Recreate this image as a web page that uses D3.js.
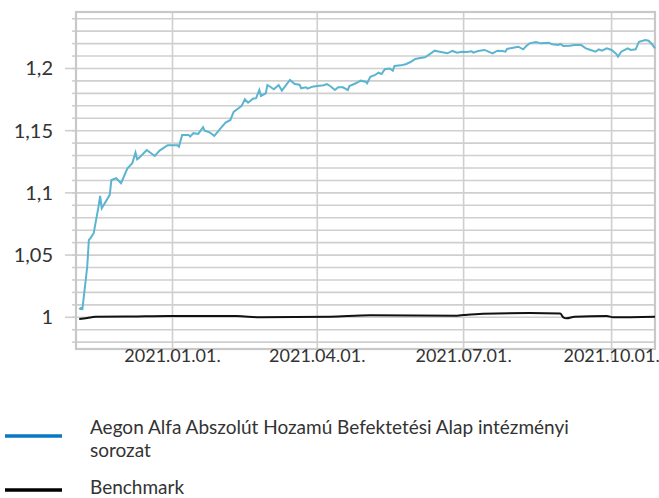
<!DOCTYPE html>
<html>
<head>
<meta charset="utf-8">
<script src="https://cdn.jsdelivr.net/npm/d3@7"></script>
<style>
  body { margin: 0; background: #fff; }
  svg { display: block; font-family: Lato, "Noto Sans", sans-serif; }
  .grid line { stroke: #cfcfcf; stroke-width: 1.6; }
  .tick-label { fill: #333; }
</style>
</head>
<body>
<svg id="chart" width="659" height="498"></svg>
<script>
// fund series (dates + values)
const fundDates = [
  "2020-11-04","2020-11-05","2020-11-06","2020-11-09","2020-11-10","2020-11-11","2020-11-13",
  "2020-11-16","2020-11-17","2020-11-18","2020-11-23","2020-11-24","2020-11-27","2020-11-30",
  "2020-12-04","2020-12-07","2020-12-09","2020-12-10","2020-12-11","2020-12-16","2020-12-21",
  "2020-12-24","2020-12-29","2021-01-04","2021-01-05","2021-01-07","2021-01-11","2021-01-12",
  "2021-01-14","2021-01-17","2021-01-20","2021-01-21","2021-01-24","2021-01-27","2021-01-31",
  "2021-02-03","2021-02-06","2021-02-08","2021-02-11","2021-02-13","2021-02-15","2021-02-17",
  "2021-02-20","2021-02-22","2021-02-24","2021-02-25","2021-02-28","2021-03-01","2021-03-02",
  "2021-03-05","2021-03-08","2021-03-10","2021-03-15","2021-03-18","2021-03-21","2021-03-22",
  "2021-03-25","2021-03-26","2021-03-29","2021-04-01","2021-04-05","2021-04-07","2021-04-09",
  "2021-04-12","2021-04-14","2021-04-17","2021-04-20","2021-04-21","2021-04-25","2021-04-28",
  "2021-05-01","2021-05-02","2021-05-04","2021-05-07","2021-05-09","2021-05-11","2021-05-13",
  "2021-05-16","2021-05-18","2021-05-19","2021-05-23","2021-05-26","2021-05-29","2021-06-01",
  "2021-06-04","2021-06-07","2021-06-10","2021-06-13","2021-06-16","2021-06-21","2021-06-24",
  "2021-06-27","2021-06-30","2021-07-03","2021-07-06","2021-07-07","2021-07-10","2021-07-14",
  "2021-07-19","2021-07-22","2021-07-25","2021-07-27","2021-07-28","2021-07-31","2021-08-04",
  "2021-08-07","2021-08-09","2021-08-11","2021-08-15","2021-08-18","2021-08-23","2021-08-25",
  "2021-08-29","2021-08-30","2021-09-01","2021-09-05","2021-09-08","2021-09-12","2021-09-15",
  "2021-09-18","2021-09-21","2021-09-23","2021-09-25","2021-09-28","2021-10-01","2021-10-04",
  "2021-10-05","2021-10-07","2021-10-11","2021-10-13","2021-10-16","2021-10-18","2021-10-22",
  "2021-10-24","2021-10-26","2021-10-28"
];
const fundValues = [
  1.0065,1.0075,1.0068,1.041,1.0622,1.0636,1.0676,
  1.089,1.0976,1.0877,1.0984,1.1104,1.1118,1.1078,
  1.1198,1.1239,1.1324,1.127,1.1279,1.1345,1.1297,
  1.134,1.1383,1.1383,1.1372,1.1466,1.1466,1.1452,
  1.148,1.1474,1.1528,1.15,1.1487,1.1458,1.152,
  1.1565,1.1586,1.1651,1.168,1.1699,1.1753,1.1725,
  1.1757,1.1761,1.1827,1.1779,1.18,1.1867,1.1859,
  1.1833,1.1867,1.1822,1.1908,1.1875,1.187,1.1841,
  1.1849,1.1838,1.1854,1.1859,1.1865,1.1875,1.1859,
  1.1827,1.1849,1.1849,1.1827,1.1859,1.1881,1.1902,
  1.1894,1.1881,1.1934,1.1948,1.1966,1.1956,1.1994,
  1.2,1.1983,1.202,1.2025,1.2034,1.2052,1.2076,
  1.2084,1.209,1.2116,1.2143,1.2135,1.2122,1.2141,
  1.2127,1.2135,1.2133,1.2138,1.2127,1.2141,1.2149,
  1.2122,1.2143,1.2141,1.2135,1.2157,1.2165,1.2175,
  1.2154,1.2181,1.2202,1.2213,1.2202,1.2207,1.2194,
  1.2189,1.2197,1.2181,1.2183,1.2189,1.2189,1.2162,
  1.2149,1.2135,1.2154,1.2143,1.2162,1.2149,1.2116,
  1.2095,1.2135,1.2162,1.2149,1.2154,1.2215,1.2229,
  1.2223,1.2197,1.2162
];

// benchmark series
const benchDates = [
  "2020-11-04","2020-11-09","2020-11-14","2020-12-06","2020-12-29","2021-02-10","2021-02-24",
  "2021-04-09","2021-05-04","2021-06-27","2021-07-01","2021-07-13","2021-08-11","2021-08-30",
  "2021-09-01","2021-09-03","2021-09-08","2021-09-28","2021-10-02","2021-10-28"
];
const benchValues = [
  0.9986,0.9994,1.0004,1.0006,1.001,1.001,1.0,
  1.0005,1.0016,1.0013,1.0018,1.0029,1.0034,1.003,
  1.0,0.9992,1.0005,1.001,1.0,1.0004
];

const xTickDates = ["2021-01-01","2021-04-01","2021-07-01","2021-10-01"];
const xTickLabels = ["2021.01.01.","2021.04.01.","2021.07.01.","2021.10.01."];
const yMajorTicks = [1, 1.05, 1.1, 1.15, 1.2];
const seriesNames = ["Aegon Alfa Abszolút Hozamú Befektetési Alap intézményi", "sorozat", "Benchmark"];

const parse = d3.timeParse("%Y-%m-%d");
const svg = d3.select("#chart");

const plotLeft = 76, plotRight = 655, plotTop = 12, plotBottom = 349;

const x = d3.scaleTime()
    .domain([parse("2020-11-02"), parse("2021-10-28")])
    .range([plotLeft, plotRight]);

const y = d3.scaleLinear()
    .domain([0.9745, 1.2454])
    .range([plotBottom, plotTop]);

const yMinor = d3.range(98, 125).map(d => d / 100);

//grid
const grid = svg.append("g").attr("class", "grid");

grid.selectAll(".hgrid")
    .data(yMinor)
    .enter().append("line")
    .attr("x1", plotLeft).attr("x2", plotRight)
    .attr("y1", d => y(d)).attr("y2", d => y(d));

grid.selectAll(".vgrid")
    .data(xTickDates)
    .enter().append("line")
    .attr("x1", d => x(parse(d))).attr("x2", d => x(parse(d)))
    .attr("y1", plotTop).attr("y2", plotBottom + 11);

// minor ticks on the left
grid.selectAll(".minor")
    .data(yMinor)
    .enter().append("line")
    .attr("x1", plotLeft - 4).attr("x2", plotLeft)
    .attr("y1", d => y(d)).attr("y2", d => y(d));

// major ticks on the left
grid.selectAll(".major")
    .data(yMajorTicks)
    .enter().append("line")
    .attr("x1", plotLeft - 11).attr("x2", plotLeft)
    .attr("y1", d => y(d)).attr("y2", d => y(d));

// border
svg.append("rect")
    .attr("x", plotLeft).attr("y", plotTop)
    .attr("width", plotRight - plotLeft).attr("height", plotBottom - plotTop)
    .attr("fill", "none")
    .attr("stroke", "#c8c8c8")
    .attr("stroke-width", 2.2);

// y labels
svg.selectAll(".ylab")
    .data(yMajorTicks)
    .enter().append("text")
    .attr("class", "tick-label")
    .attr("x", 53)
    .attr("y", d => y(d) + 7)
    .attr("text-anchor", "end")
    .style("font-size", "20px")
    .text(d => d3.format("~")(d).replace(".", ","));

// x labels
svg.selectAll(".xlab")
    .data(xTickDates)
    .enter().append("text")
    .attr("class", "tick-label")
    .attr("x", d => x(parse(d)))
    .attr("y", 362)
    .attr("text-anchor", "middle")
    .style("font-size", "18px")
    .text((d, i) => xTickLabels[i]);

// lines
const line = d3.line()
    .x(d => x(d[0]))
    .y(d => y(d[1]));

svg.append("path")
    .datum(benchDates.map((d, i) => [parse(d), benchValues[i]]))
    .attr("fill", "none")
    .attr("stroke", "#111")
    .attr("stroke-width", 2)
    .attr("d", line.curve(d3.curveMonotoneX));

svg.append("path")
    .datum(fundDates.map((d, i) => [parse(d), fundValues[i]]))
    .attr("fill", "none")
    .attr("stroke", "#5bb5d0")
    .attr("stroke-width", 2)
    .attr("d", line.curve(d3.curveLinear));

// legend
const legend = svg.append("g");

legend.append("line")
    .attr("x1", 5).attr("x2", 62)
    .attr("y1", 436).attr("y2", 436)
    .attr("stroke", "#0a77c4")
    .attr("stroke-width", 3.5);

legend.append("text")
    .attr("class", "tick-label")
    .attr("x", 90).attr("y", 434)
    .style("font-size", "19px")
    .text(seriesNames[0]);

legend.append("text")
    .attr("class", "tick-label")
    .attr("x", 90).attr("y", 457)
    .style("font-size", "19px")
    .text(seriesNames[1]);

legend.append("line")
    .attr("x1", 5).attr("x2", 62)
    .attr("y1", 490).attr("y2", 490)
    .attr("stroke", "#000")
    .attr("stroke-width", 3.5);

legend.append("text")
    .attr("class", "tick-label")
    .attr("x", 90).attr("y", 494)
    .style("font-size", "19px")
    .text(seriesNames[2]);
</script>
</body>
</html>
